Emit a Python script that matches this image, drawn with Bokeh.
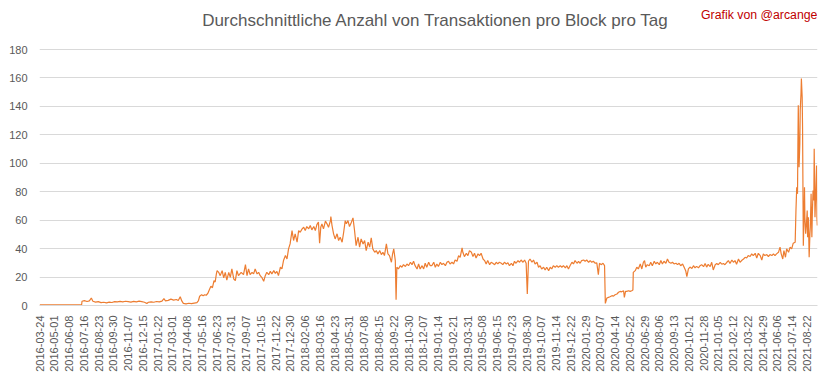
import math
import pandas as pd
from bokeh.plotting import figure
from bokeh.models import FixedTicker, Label, Range1d, ColumnDataSource
from bokeh.embed import file_html
from bokeh.resources import INLINE

title_text = "Durchschnittliche Anzahl von Transaktionen pro Block pro Tag"
credit_text = "Grafik von @arcange"

tick_labels = [
    "2016-03-24", "2016-05-01", "2016-06-08", "2016-07-16", "2016-08-23", "2016-09-30",
    "2016-11-07", "2016-12-15", "2017-01-22", "2017-03-01", "2017-04-08", "2017-05-16",
    "2017-06-23", "2017-07-31", "2017-09-07", "2017-10-15", "2017-11-22", "2017-12-30",
    "2018-02-06", "2018-03-16", "2018-04-23", "2018-05-31", "2018-07-08", "2018-08-15",
    "2018-09-22", "2018-10-30", "2018-12-07", "2019-01-14", "2019-02-21", "2019-03-31",
    "2019-05-08", "2019-06-15", "2019-07-23", "2019-08-30", "2019-10-07", "2019-11-14",
    "2019-12-22", "2020-01-29", "2020-03-07", "2020-04-14", "2020-05-22", "2020-06-29",
    "2020-08-06", "2020-09-13", "2020-10-21", "2020-11-28", "2021-01-05", "2021-02-12",
    "2021-03-22", "2021-04-29", "2021-06-06", "2021-07-14", "2021-08-22",
]
y_ticks = [0, 20, 40, 60, 80, 100, 120, 140, 160, 180]

# day offsets from 2016-03-24 and values
day_p1 = [0, 108, 109, 115, 122, 128, 133, 137, 144, 151, 158, 165, 172, 179, 186, 193, 200, 207,
          214, 221, 228, 235, 242, 249, 256, 263, 270, 276, 280, 287, 294, 301, 308, 315, 320, 324,
          331, 338, 345, 352, 357, 362, 366, 370, 377, 384, 391, 398, 405, 409, 412, 417, 421, 425,
          429, 433, 437, 441, 445, 449, 452, 455]
val_p1 = [0.5, 0.5, 3.0, 3.4, 2.8, 3.2, 5.3, 3.0, 2.4, 2.7, 2.0, 2.3, 1.8, 2.4, 2.1, 2.7, 2.5, 2.9,
          2.6, 3.0, 2.7, 2.4, 2.9, 2.6, 3.1, 2.7, 2.3, 1.4, 2.3, 2.6, 2.3, 2.8, 2.5, 3.1, 4.8, 3.3,
          3.6, 4.5, 3.8, 4.2, 3.5, 6.2, 3.2, 1.5, 1.2, 1.6, 1.3, 1.7, 2.0, 3.5, 6.5, 7.5, 6.8, 7.6,
          7.2, 8.5, 11.0, 13.5, 12.5, 17.5, 16.5, 22.0]

day_p2 = [457, 461, 465, 470, 474, 478, 482, 487, 491, 495, 500, 504, 508, 512, 519, 525, 530, 534,
          538, 542, 547, 551, 555, 560, 564, 568, 572, 577, 581, 585, 590, 594, 598, 603, 607, 611,
          615, 620, 624, 628, 633, 637, 641, 645, 650, 654]
val_p2 = [24.5, 23.3, 21.0, 24.5, 19.4, 23.3, 17.9, 23.3, 19.8, 25.7, 18.6, 17.5, 24.5, 21.0, 23.3,
          21.7, 28.7, 21.0, 25.7, 21.7, 23.3, 22.2, 25.7, 22.2, 23.3, 21.0, 19.8, 17.0, 21.0, 23.3,
          21.7, 24.0, 22.2, 24.5, 22.6, 24.0, 21.0, 26.9, 25.7, 31.6, 35.1, 32.7, 39.8, 43.3, 52.7,
          45.7]

day_p3 = [658, 663, 667, 671, 676, 680, 684, 688, 693, 697, 701, 706, 710, 714, 718, 721, 724, 727,
          731, 736, 740, 744, 749, 750, 753, 757, 761, 766, 770, 774, 779, 783, 787, 790, 794, 798,
          803, 807, 811, 815, 820, 824, 828, 833, 837, 841, 846, 850, 854, 858, 863, 867, 871, 876,
          880, 884, 888, 893, 897, 901, 906, 909, 912, 916, 918, 920, 924, 929, 933, 937, 942, 946,
          950, 955, 959, 963, 967, 972, 976, 980, 985, 989, 993, 997, 1002, 1006]
val_p3 = [50.4, 44.5, 52.7, 51.5, 53.9, 55.0, 52.7, 55.5, 53.9, 56.2, 53.2, 55.5, 52.7, 56.9, 58.6,
          43.8, 55.0, 57.4, 53.9, 59.3, 57.4, 55.0, 59.7, 62.6, 56.2, 50.4, 46.8, 50.4, 45.7, 48.0,
          44.5, 51.5, 59.7, 57.4, 59.7, 55.5, 58.6, 61.6, 52.7, 42.1, 48.0, 41.0, 46.8, 43.3, 45.7,
          38.6, 44.5, 41.0, 47.5, 39.8, 37.4, 38.6, 36.3, 38.6, 35.8, 37.4, 35.1, 43.3, 36.3, 35.1,
          30.4, 36.3, 39.8, 31.6, 4.1, 26.9, 25.7, 28.0, 26.9, 28.7, 27.4, 29.2, 28.0, 30.4, 28.7,
          31.1, 28.0, 25.7, 29.2, 25.7, 28.0, 25.7, 29.7, 26.9, 30.4, 28.0]

day_p4 = [1010, 1015, 1019, 1023, 1027, 1032, 1036, 1040, 1045, 1049, 1053, 1057, 1062, 1066, 1070,
          1075, 1079, 1083, 1088, 1090, 1094, 1099, 1103, 1107, 1112, 1116, 1120, 1124, 1129, 1133,
          1137, 1142, 1146, 1150, 1154, 1159, 1163, 1167, 1172, 1176, 1180, 1184, 1189, 1193, 1197,
          1202, 1206, 1210, 1215, 1219, 1223, 1227, 1232, 1236, 1240, 1245, 1249, 1253, 1256, 1259,
          1263, 1268, 1272, 1276, 1281, 1285, 1289, 1293, 1298, 1302, 1306, 1311, 1315, 1319, 1323,
          1328, 1332, 1336]
val_p4 = [28.0, 30.4, 26.9, 29.2, 27.4, 30.4, 28.7, 29.7, 28.0, 30.4, 31.1, 29.2, 30.4, 29.2, 32.0,
          31.1, 35.1, 33.9, 40.5, 37.4, 34.4, 36.7, 35.1, 38.6, 37.4, 34.4, 36.7, 33.4, 36.3, 35.1,
          36.7, 32.7, 31.6, 29.2, 31.6, 28.7, 30.4, 29.7, 28.7, 30.4, 29.2, 30.4, 29.7, 28.7, 30.4,
          29.2, 30.0, 28.0, 29.7, 28.0, 31.1, 29.7, 31.6, 30.4, 32.0, 30.4, 32.0, 29.7, 8.1, 31.1,
          32.7, 30.4, 32.0, 29.2, 30.4, 26.9, 28.0, 25.7, 26.9, 25.0, 26.9, 24.5, 26.9, 25.7, 28.0,
          26.9, 28.0, 26.9]

day_p5 = [1341, 1345, 1349, 1354, 1358, 1362, 1366, 1371, 1375, 1379, 1384, 1388, 1392, 1396, 1401,
          1405, 1409, 1414, 1418, 1422, 1426, 1431, 1435, 1439, 1442, 1446, 1451, 1455, 1457, 1461,
          1465, 1469, 1474, 1478, 1482, 1487, 1491, 1495, 1499, 1504, 1506, 1509, 1512, 1517, 1521,
          1525, 1528, 1529, 1534, 1538, 1542, 1547, 1551, 1555, 1558, 1561, 1565, 1570, 1574, 1578,
          1583, 1587, 1591, 1596, 1600, 1604, 1608, 1613, 1617, 1621, 1626, 1630, 1634, 1639, 1643,
          1647, 1651, 1656, 1660, 1664, 1667, 1671, 1675, 1680, 1684, 1688, 1692, 1697]
val_p5 = [28.0, 26.9, 28.0, 26.4, 28.0, 25.7, 28.0, 30.4, 29.2, 31.6, 29.7, 31.1, 29.7, 31.6, 32.0,
          31.1, 32.0, 30.4, 31.6, 30.4, 31.1, 29.7, 30.0, 21.7, 29.7, 28.7, 29.7, 28.0, 1.5, 5.3,
          5.7, 6.2, 6.9, 6.6, 7.6, 8.1, 9.3, 9.9, 9.6, 10.4, 5.7, 9.9, 9.9, 10.4, 9.9,
          10.4, 10.9, 23.3, 24.5, 26.9, 25.7, 29.2, 25.7, 30.4, 31.6, 26.9, 28.7, 28.0, 30.4, 28.0,
          31.1, 29.2, 30.4, 28.7, 31.6, 29.2, 31.1, 29.7, 32.7, 30.4, 29.7, 30.4, 29.2, 29.7, 28.7,
          29.7, 28.0, 29.2, 26.9, 24.5, 20.3, 25.7, 27.0, 26.0, 28.0, 26.5, 27.5, 26.5]

day_p6 = [1701, 1705, 1710, 1714, 1718, 1722, 1727, 1731, 1735, 1740, 1744, 1748, 1753, 1757, 1761,
          1765, 1770, 1774, 1778, 1783, 1787, 1791, 1795, 1800, 1804, 1808, 1813, 1817, 1821, 1825,
          1830, 1834, 1838, 1843, 1847, 1851, 1856, 1860, 1864, 1868, 1873, 1877, 1881, 1886, 1890,
          1894, 1898, 1903, 1907, 1910, 1914, 1917, 1921, 1924, 1929, 1933, 1937, 1941, 1946,
          1948, 1950, 1952, 1953, 1954, 1956, 1958, 1959, 1961, 1962, 1964, 1965, 1967, 1969, 1970,
          1971, 1973, 1975, 1977, 1978, 1980, 1982, 1984, 1985, 1987, 1989, 1990, 1992, 1994, 1995,
          1997, 1999, 2001, 2002, 2003]
val_p6 = [28.0, 28.7, 27.3, 29.5, 27.0, 29.0, 27.3, 30.4, 25.0, 28.7, 29.5, 28.7, 30.4, 29.0, 29.5,
          28.7, 30.4, 31.6, 29.5, 32.0, 30.4, 31.6, 29.0, 32.7, 30.4, 31.6, 32.7, 33.9, 33.4, 35.1,
          34.4, 36.3, 35.1, 36.7, 33.4, 36.7, 35.1, 32.0, 36.3, 35.1, 35.8, 34.4, 35.8, 35.1, 36.3,
          35.1, 36.3, 37.4, 41.0, 36.3, 32.7, 38.6, 33.9, 39.8, 37.4, 41.0, 39.8, 43.8, 44.5,
          66.8, 83.2, 78.5, 112.6, 140.8, 97.3, 113.8, 137.2, 149.0, 159.6, 146.6, 125.5, 42.1, 66.8,
          83.2, 62.1, 50.4, 57.4, 66.8, 48.0, 62.1, 33.9, 50.4, 55.0, 78.5, 48.0, 62.1, 80.9, 73.8,
          110.2, 62.1, 78.5, 98.5, 62.1, 56.2]

days = day_p1 + day_p2 + day_p3 + day_p4 + day_p5 + day_p6
vals = val_p1 + val_p2 + val_p3 + val_p4 + val_p5 + val_p6

start = pd.Timestamp(tick_labels[0])
tick_pos = [(pd.Timestamp(t) - start).days for t in tick_labels]

FONT = "Liberation Sans"
GRAY = "#595959"
GRID = "#D9D9D9"

# the plot area reaches the top of the canvas so that the title texts sit inside it;
# 180 stays 256 px above the zero line as in the reference
y_top = 180 * 305 / 256

p = figure(width=833, height=379, output_backend="svg", toolbar_location=None, title=None,
           x_range=Range1d(-0.5, 2003.5), y_range=Range1d(0, y_top),
           min_border_left=39, min_border_right=16, min_border_top=0, min_border_bottom=74)
p.outline_line_color = None
p.background_fill_color = "white"
p.border_fill_color = "white"

src = ColumnDataSource(dict(x=days, y=vals))
p.line("x", "y", source=src, line_color="#ED7D31", line_width=1.2)

p.xaxis.ticker = FixedTicker(ticks=tick_pos)
p.xaxis.major_label_overrides = {pos: lab for pos, lab in zip(tick_pos, tick_labels)}
p.xaxis.major_label_orientation = math.pi / 2
p.xaxis.major_tick_line_color = None
p.xaxis.minor_tick_line_color = None
p.xaxis.axis_line_color = GRID
p.xaxis.major_label_text_font = FONT
p.xaxis.major_label_text_font_size = "11px"
p.xaxis.major_label_text_color = GRAY
p.xaxis.major_label_standoff = 4

p.yaxis.ticker = FixedTicker(ticks=y_ticks)
p.yaxis.major_tick_line_color = None
p.yaxis.minor_tick_line_color = None
p.yaxis.axis_line_color = None
p.yaxis.major_label_text_font = FONT
p.yaxis.major_label_text_font_size = "11px"
p.yaxis.major_label_text_color = GRAY
p.yaxis.major_label_standoff = 6

p.xgrid.grid_line_color = None
p.ygrid.grid_line_color = GRID
p.ygrid.grid_line_width = 1

p.add_layout(Label(x=1020, y=200.6, text=title_text,
                   text_align="center", text_baseline="alphabetic", text_font=FONT,
                   text_font_size="17px", text_color=GRAY))
p.add_layout(Label(x=2003.3, y=204.4, text=credit_text,
                   text_align="right", text_baseline="alphabetic", text_font=FONT,
                   text_font_size="12.3px", text_color="#C00000"))

open("out.html", "w").write(file_html(p, INLINE))
